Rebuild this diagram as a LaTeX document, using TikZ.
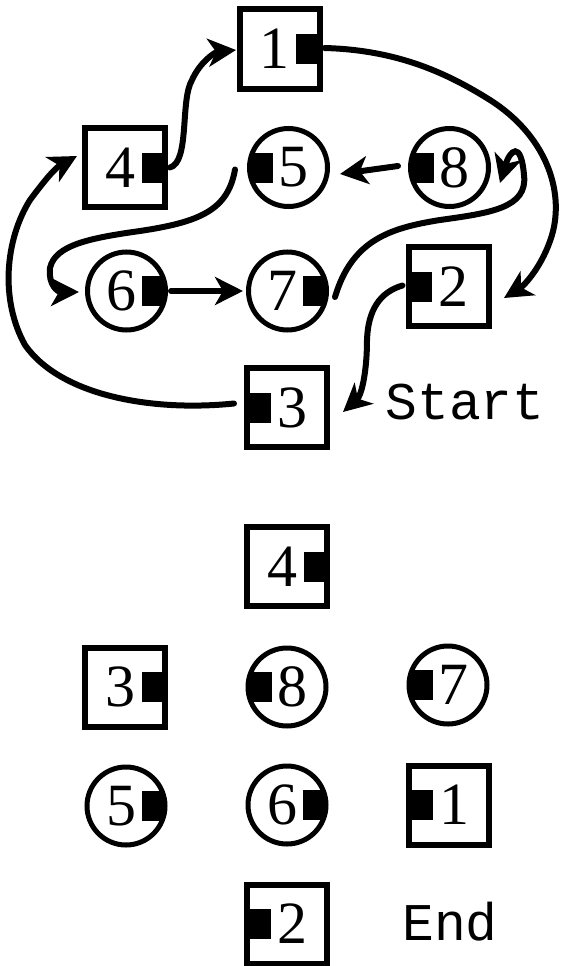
\documentclass[tikz,border=0pt]{standalone}
\usepackage{fontspec}
\setmainfont{Liberation Serif}
\newfontfamily\monofont{Liberation Mono}
\usetikzlibrary{arrows.meta}
\begin{document}
\begin{tikzpicture}[x=1pt,y=-1pt,
  sq/.style={draw, line width=6pt, minimum width=80pt, minimum height=79pt, inner sep=0pt,
    font=\fontsize{60}{60}\selectfont},
  rnd/.style={draw, circle, line width=5pt, minimum size=78pt, inner sep=0pt,
    font=\fontsize{60}{60}\selectfont},
  tabR/.style={path picture={\fill[black] ([shift={(-23.5pt,-15pt)}]path picture bounding box.east)
    rectangle ([shift={(3pt,15pt)}]path picture bounding box.east);}},
  tabL/.style={path picture={\fill[black] ([shift={(23.5pt,-15pt)}]path picture bounding box.west)
    rectangle ([shift={(-3pt,15pt)}]path picture bounding box.west);}},
  con/.style={line width=6pt, line cap=round, -{Stealth[length=28pt,width=28pt,inset=8pt]}},
  lbl/.style={font=\monofont\fontsize{53}{53}\selectfont, inner sep=0pt}]
\useasboundingbox (0,0) rectangle (564,966);

% ---- top: the path ----
\node[sq,tabR]  (n1) at (279.5,49)  {\hspace*{-10pt}1};
\node[sq,tabR]  (n4) at (125,167.5) {\hspace*{-10pt}4};
\node[rnd,tabL] (n5) at (288.5,167.5) {\hspace*{10pt}5};
\node[rnd,tabL] (n8) at (449.5,167.5) {\hspace*{10pt}8};
\node[rnd,tabR] (n6) at (126.5,291) {\hspace*{-10pt}6};
\node[rnd,tabR] (n7) at (287.5,291) {\hspace*{-10pt}7};
\node[sq,tabL]  (n2) at (448.5,286.5) {\hspace*{10pt}2};
\node[sq,tabL]  (n3) at (287,407.5) {\hspace*{10pt}3};
\node[lbl] (start) at (465,402) {Start};

\coordinate (t1) at (236,50);
\coordinate (t2) at (504,298);
\coordinate (t5) at (340,174);
\coordinate (t6) at (79,292);
\coordinate (t7) at (243,291);
\coordinate (t8) at (500,183);
\coordinate (t3) at (343,412);
\coordinate (t4) at (77,156);

\draw[con] ([xshift=2pt]n4.east) .. controls (190,162) and (180,100) .. (192,80)
  .. controls (200,62) and (215,52) .. (t1);
\draw[con] ([xshift=2pt,yshift=1pt]n1.east) .. controls (400,50) and (450,75) .. (490,100)
  .. controls (545,135) and (565,190) .. (552,235)
  .. controls (543,265) and (525,285) .. (t2);
\draw[con] (398,166) -- (t5);
\draw[con] ([xshift=-12pt,yshift=-2pt]n5.west) .. controls (228,210) and (200,222) .. (140,231)
  .. controls (90,238) and (55,245) .. (50,268)
  .. controls (48,285) and (58,292) .. (t6);
\draw[con] ([xshift=3pt]n6.east) -- (t7);
\draw[con] ([xshift=6pt,yshift=-6pt]n7.east) .. controls (352,240) and (390,228) .. (440,220)
  .. controls (490,213) and (528,208) .. (524,175)
  .. controls (521,140) and (510,150) .. (t8);
\draw[con] ([xshift=-3pt,yshift=1pt]n2.west) .. controls (380,292) and (368,310) .. (367,340)
  .. controls (367,370) and (362,395) .. (t3);
\draw[con] ([xshift=-10pt,yshift=4pt]n3.west) .. controls (150,412) and (60,395) .. (25,345)
  .. controls (0,300) and (5,240) .. (30,200)
  .. controls (45,180) and (55,168) .. (t4);

% ---- bottom: the end state ----
\node[sq,tabR]  (m4) at (287,566.5) {\hspace*{-10pt}4};
\node[sq,tabR]  (m3) at (125,687)   {\hspace*{-10pt}3};
\node[rnd,tabL] (m8) at (287,687)   {\hspace*{10pt}8};
\node[rnd,tabL] (m7) at (448,685)   {\hspace*{10pt}7};
\node[rnd,tabR] (m5) at (126,806)   {\hspace*{-10pt}5};
\node[rnd,tabR] (m6) at (287,805)   {\hspace*{-10pt}6};
\node[sq,tabL]  (m1) at (449,805)   {\hspace*{10pt}1};
\node[sq,tabL]  (m2) at (287,924)   {\hspace*{10pt}2};
\node[lbl] (end) at (450,922) {End};
\end{tikzpicture}
\end{document}
